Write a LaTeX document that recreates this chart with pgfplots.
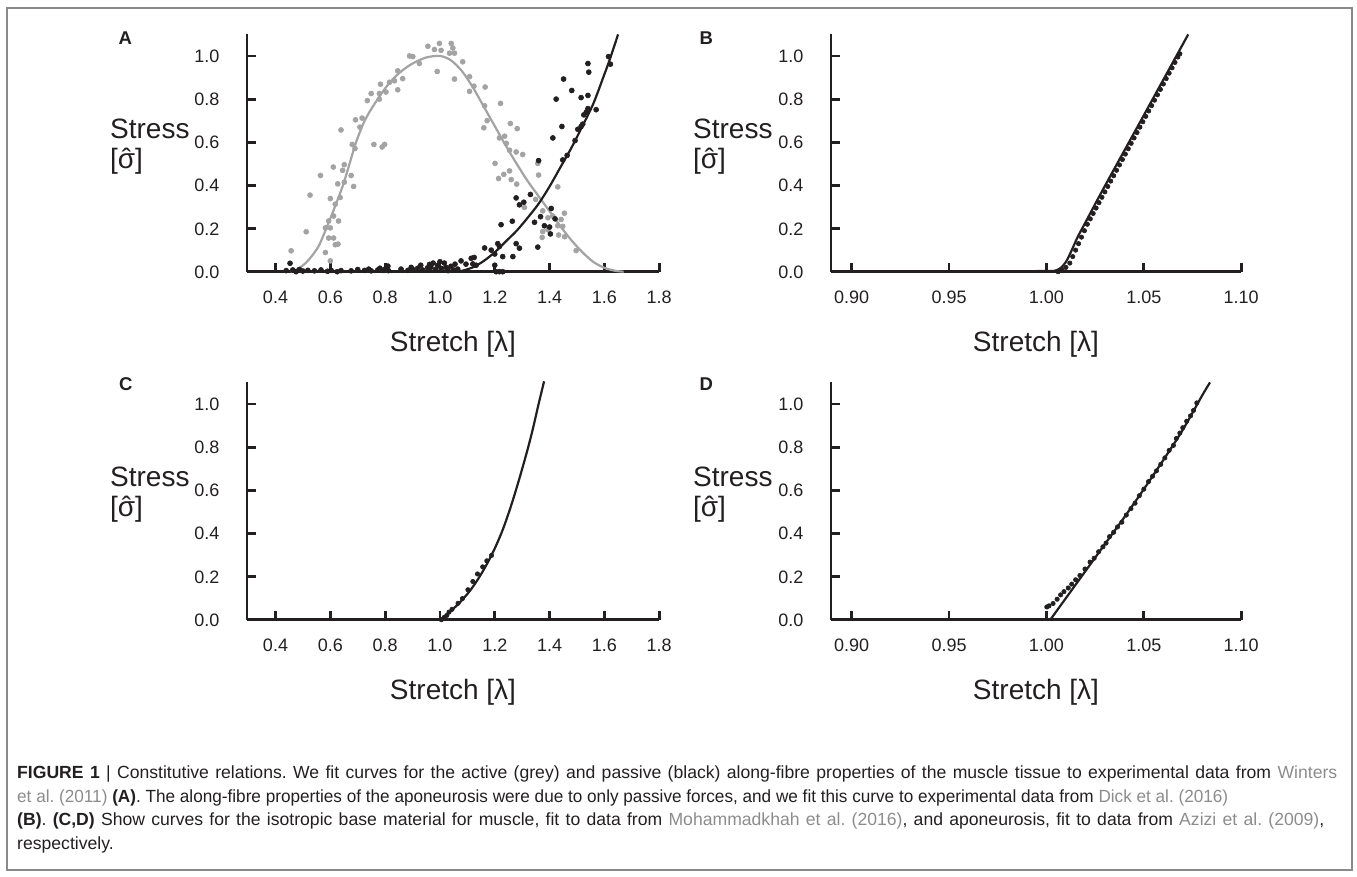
\documentclass[border=0pt]{standalone}
\usepackage{fontspec}
\setmainfont{Liberation Sans}
\usepackage{pgfplots}
\pgfplotsset{compat=1.18}
\frenchspacing
\definecolor{ink}{HTML}{231F20}
\definecolor{act}{HTML}{A3A3A3}
\definecolor{refc}{HTML}{8C8C8C}
\definecolor{framec}{HTML}{8A8A8A}
\newcommand{\shat}{{\ooalign{σ\cr\hidewidth ˆ\hidewidth\cr}}}
\pgfplotsset{
  panel/.style={
    scale only axis,
    axis lines=left,
    axis line style={-, line width=2.8bp, ink},
    every tick/.style={line width=2.8bp, ink},
    tick align=inside,
    major tick length=9bp,
    ymin=0, ymax=1.1,
    ytick={0,0.2,0.4,0.6,0.8,1.0},
    yticklabels={0.0,0.2,0.4,0.6,0.8,1.0},
    clip=false,
    /pgf/number format/assume math mode=true,
    tick label style={font=\fontsize{18bp}{20bp}\selectfont, text=ink},
    xticklabel style={anchor=base, yshift=-31.5bp},
    yticklabel style={anchor=base east, xshift=-24bp, yshift=-6.5bp},
    height=237.3bp,
  },
  wide/.style={xmin=0.296, xmax=1.8, width=412.2bp,
    xtick={0.4,0.6,0.8,1.0,1.2,1.4,1.6,1.8},
    xticklabels={0.4,0.6,0.8,1.0,1.2,1.4,1.6,1.8}},
  narrow/.style={xmin=0.8894, xmax=1.10, width=410.2bp,
    xtick={0.90,0.95,1.00,1.05,1.10},
    xticklabels={0.90,0.95,1.00,1.05,1.10}},
  dotsA/.style={only marks, color=#1, mark=*, mark size=2.5bp, mark options={solid, draw=#1, fill=#1, line width=0.6bp}},
  dotsB/.style={only marks, color=ink, mark=*, mark size=2.2bp, mark options={solid, draw=ink, fill=ink, line width=0.6bp}},
  fit/.style={#1, line width=2.2bp, smooth, mark=none},
}
\begin{document}
\begin{tikzpicture}
\path[use as bounding box] (0,0) rectangle (1357bp,877bp);
\draw[framec, line width=1.5bp] (7bp,7bp) rectangle (1352bp,869bp);

% ---------------- Panel A ----------------
\begin{axis}[panel, wide, at={(247bp,605.3bp)}, anchor=south west]
\addplot[dotsA=act] coordinates {
(0.457,0.097)(0.512,0.185)(0.526,0.355)(0.564,0.446)(0.582,0.089)(0.600,0.050)
(0.582,0.203)(0.600,0.203)(0.594,0.235)(0.630,0.235)(0.612,0.258)(0.594,0.156)
(0.612,0.156)(0.618,0.125)(0.628,0.128)(0.618,0.313)(0.600,0.339)(0.636,0.344)
(0.627,0.407)(0.651,0.415)(0.685,0.395)(0.611,0.485)(0.645,0.470)(0.676,0.446)
(0.651,0.496)(0.639,0.657)(0.680,0.590)(0.690,0.571)(0.692,0.704)(0.716,0.712)
(0.708,0.670)(0.759,0.590)(0.789,0.578)(0.798,0.590)(0.735,0.793)(0.749,0.826)
(0.779,0.826)(0.803,0.833)(0.783,0.869)(0.779,0.800)(0.816,0.878)(0.834,0.885)
(0.846,0.843)(0.846,0.931)(0.864,0.895)
(0.889,1.000)(0.901,0.997)(0.925,0.965)(0.956,1.045)(0.980,1.030)(1.004,1.026)
(0.998,1.058)(1.041,1.058)(1.047,1.037)(1.035,1.013)(1.053,1.013)(0.990,0.928)
(1.053,0.893)(1.083,0.973)(1.108,0.904)(1.124,0.860)(1.108,0.836)(1.165,0.856)
(1.163,0.769)(1.221,0.780)(1.172,0.700)(1.160,0.667)(1.257,0.687)(1.282,0.663)
(1.217,0.620)(1.236,0.628)(1.242,0.595)(1.254,0.563)(1.278,0.555)(1.302,0.543)
(1.201,0.502)(1.214,0.432)(1.233,0.451)(1.254,0.467)(1.260,0.427)(1.280,0.406)
(1.357,0.502)(1.360,0.448)(1.308,0.298)(1.349,0.335)(1.430,0.393)(1.375,0.282)
(1.394,0.250)(1.412,0.258)(1.454,0.271)(1.442,0.242)(1.430,0.213)(1.375,0.186)
(1.394,0.194)(1.373,0.159)(1.433,0.170)(1.455,0.162)(1.448,0.210)(1.497,0.098)
};
\addplot[fit=act] coordinates {
(0.455,0)(0.48,0.012)(0.51,0.04)(0.54,0.085)(0.56,0.125)(0.585,0.20)(0.615,0.295)
(0.646,0.40)(0.67,0.50)(0.694,0.60)(0.72,0.685)(0.745,0.745)(0.773,0.80)(0.80,0.85)
(0.83,0.895)(0.86,0.93)(0.90,0.965)(0.95,0.993)(1.00,1.00)(1.04,0.98)(1.08,0.93)
(1.12,0.855)(1.16,0.765)(1.20,0.675)(1.24,0.585)(1.28,0.50)(1.32,0.42)(1.36,0.35)
(1.40,0.28)(1.44,0.21)(1.48,0.145)(1.52,0.09)(1.56,0.045)(1.60,0.018)(1.64,0.004)(1.67,0)
};
\addplot[dotsA=ink] coordinates {
(0.439,0.005)(0.453,0.039)(0.463,0.008)(0.475,0.0)(0.487,0.01)(0.500,0.003)(0.518,0.006)
(0.542,0.004)(0.566,0.008)(0.590,0.002)(0.603,0.006)(0.625,0.0)(0.639,0.005)(0.676,0.004)
(0.700,0.01)(0.725,0.006)(0.740,0.012)(0.749,0.004)(0.773,0.008)(0.781,0.016)(0.791,0.006)
(0.800,0.012)(0.810,0.026)(0.812,0.005)(0.858,0.012)(0.883,0.006)(0.895,0.02)(0.901,0.01)
(0.919,0.016)(0.930,0.03)(0.937,0.008)(0.955,0.018)(0.962,0.034)(0.967,0.02)(0.975,0.04)
(0.985,0.012)(0.992,0.03)(1.000,0.046)(1.005,0.015)(1.016,0.04)(1.022,0.02)(1.030,0.005)
(1.040,0.025)(1.050,0.008)(1.055,0.035)(1.065,0.012)(1.077,0.05)(1.095,0.035)(1.114,0.062)
(1.125,0.066)(1.120,0.036)(1.132,0.03)
(1.163,0.11)(1.187,0.10)(1.200,0.082)(1.200,0.03)(1.205,0.0)(1.211,0.13)(1.217,0.117)
(1.217,0.0)(1.223,0.218)(1.229,0.07)(1.229,0.0)(1.264,0.234)(1.266,0.07)(1.278,0.13)
(1.278,0.342)(1.29,0.109)(1.29,0.31)(1.306,0.322)(1.33,0.358)(1.345,0.229)(1.357,0.114)
(1.36,0.515)(1.367,0.255)(1.381,0.213)(1.4,0.207)(1.403,0.175)(1.406,0.293)(1.412,0.62)
(1.42,0.245)(1.424,0.8)(1.445,0.673)(1.448,0.518)(1.451,0.893)(1.464,0.539)(1.481,0.84)
(1.493,0.608)(1.503,0.66)(1.515,0.673)(1.521,0.684)(1.515,0.807)(1.525,0.727)(1.534,0.74)
(1.54,0.756)(1.54,0.817)(1.57,0.751)(1.54,0.965)(1.543,0.925)(1.615,0.997)(1.622,0.962)
};
\addplot[fit=ink] coordinates {
(1.07,0)(1.12,0.02)(1.16,0.05)(1.20,0.09)(1.24,0.14)(1.28,0.19)(1.32,0.25)(1.36,0.315)
(1.40,0.395)(1.44,0.485)(1.48,0.575)(1.52,0.675)(1.56,0.78)(1.60,0.915)(1.62,0.985)(1.65,1.1)
};
\end{axis}

% ---------------- Panel B ----------------
\begin{axis}[panel, narrow, at={(831bp,605.3bp)}, anchor=south west]
\addplot[dotsB] coordinates {
(1.006,0.0)(1.008,0.01)(1.010,0.02)(1.012,0.04)(1.0135,0.07)(1.015,0.10)(1.0165,0.13)
(1.018,0.16)(1.0195,0.19)(1.021,0.22)(1.0225,0.245)(1.024,0.27)(1.0255,0.295)(1.027,0.32)
(1.0285,0.345)(1.030,0.37)(1.0315,0.395)(1.033,0.42)(1.0345,0.445)(1.036,0.47)(1.0375,0.495)
(1.039,0.52)(1.0405,0.545)(1.042,0.57)(1.0435,0.595)(1.045,0.62)(1.0465,0.645)(1.048,0.67)
(1.0495,0.695)(1.051,0.72)(1.0525,0.745)(1.054,0.77)(1.0555,0.795)(1.057,0.82)(1.0585,0.845)
(1.060,0.87)(1.0615,0.895)(1.063,0.92)(1.0645,0.945)(1.066,0.97)(1.0675,0.995)(1.0685,1.01)
};
\addplot[fit=ink] coordinates {
(0.8894,0)(0.95,0.001)(1.0,0.003)(1.004,0.004)(1.007,0.015)(1.010,0.045)(1.013,0.10)
(1.016,0.16)(1.02,0.228)(1.03,0.397)(1.05,0.725)(1.0728,1.1)
};
\end{axis}

% ---------------- Panel C ----------------
\begin{axis}[panel, wide, at={(247bp,257.3bp)}, anchor=south west]
\addplot[dotsB] coordinates {
(1.005,0.0)(1.015,0.01)(1.025,0.02)(1.033,0.035)(1.044,0.048)(1.066,0.076)(1.082,0.098)
(1.102,0.139)(1.12,0.177)(1.137,0.212)(1.156,0.245)(1.171,0.273)(1.188,0.298)
};
\addplot[fit=ink] coordinates {
(1.000,0)(1.02,0.018)(1.05,0.052)(1.08,0.09)(1.11,0.135)(1.14,0.19)(1.17,0.255)(1.20,0.33)
(1.23,0.42)(1.26,0.53)(1.29,0.655)(1.32,0.79)(1.34,0.89)(1.36,1.0)(1.38,1.105)
};
\end{axis}

% ---------------- Panel D ----------------
\begin{axis}[panel, narrow, at={(831bp,257.3bp)}, anchor=south west]
\addplot[dotsB] coordinates {
(1.0002,0.059)(1.0013,0.064)(1.0034,0.075)(1.0055,0.095)(1.0073,0.115)(1.0090,0.13)
(1.0112,0.147)(1.0130,0.165)(1.0150,0.185)(1.0172,0.205)(1.0198,0.235)(1.0224,0.267)
(1.0245,0.285)(1.0268,0.315)(1.0290,0.338)(1.0306,0.355)(1.0324,0.385)(1.0345,0.405)
(1.0365,0.43)(1.0387,0.452)(1.0410,0.485)(1.0434,0.515)(1.0455,0.54)(1.0477,0.575)
(1.0500,0.605)(1.0524,0.64)(1.0545,0.665)(1.0565,0.69)(1.0587,0.72)(1.0608,0.75)
(1.0630,0.785)(1.0652,0.808)(1.0667,0.84)(1.0685,0.865)(1.0700,0.89)(1.0720,0.92)
(1.0740,0.945)(1.0755,0.97)(1.0772,1.005)
};
\addplot[fit=ink] coordinates {
(1.002,0)(1.01,0.10)(1.02,0.225)(1.03,0.35)(1.04,0.475)(1.05,0.605)(1.06,0.74)
(1.07,0.88)(1.08,1.04)(1.084,1.1)
};
\end{axis}

% ---------------- Labels ----------------
\begin{scope}[every node/.style={inner sep=0pt, text=ink}]
\foreach \cx/\by in {453/525.3, 1036/525.3, 453/177.3, 1036/177.3}
  \node[anchor=base, font=\fontsize{28bp}{32bp}\selectfont] at (\cx bp,\by bp) {Stretch [λ]};
\foreach \lx/\sy/\ly in {110/738.7/708, 693/738.7/708, 110/390.7/360, 693/390.7/360}{
  \node[anchor=base west, font=\fontsize{28bp}{32bp}\selectfont] at (\lx bp,\sy bp) {Stress};
  \node[anchor=base west, font=\fontsize{28bp}{32bp}\selectfont] at (\lx bp,\ly bp) {[\shat]};
}
\node[anchor=base west, font=\fontsize{18.5bp}{20bp}\selectfont\bfseries] at (118.3bp,832bp) {A};
\node[anchor=base west, font=\fontsize{18.5bp}{20bp}\selectfont\bfseries] at (699.4bp,832bp) {B};
\node[anchor=base west, font=\fontsize{18.5bp}{20bp}\selectfont\bfseries] at (119bp,486bp) {C};
\node[anchor=base west, font=\fontsize{18.5bp}{20bp}\selectfont\bfseries] at (699.4bp,486bp) {D};

\begin{scope}[every node/.append style={anchor=base west, font=\fontsize{17.6bp}{21bp}\selectfont}]
\node at (17bp,98bp) {\makebox[1320bp][s]{\textbf{FIGURE 1} | Constitutive relations. We fit curves for the active (grey) and passive (black) along-fibre properties of the muscle tissue to experimental data from \textcolor{refc}{Winters}}};
\node at (17bp,74.5bp) {\scalebox{0.975}[1]{\textcolor{refc}{et al. (2011)} \textbf{(A)}. The along-fibre properties of the aponeurosis were due to only passive forces, and we fit this curve to experimental data from \textcolor{refc}{Dick et al. (2016)}}};
\node at (17bp,51bp) {\makebox[1307bp][s]{\textbf{(B)}. \textbf{(C,D)} Show curves for the isotropic base material for muscle, fit to data from \textcolor{refc}{Mohammadkhah et al. (2016)}, and aponeurosis, fit to data from \textcolor{refc}{Azizi et al. (2009)},}};
\node at (17bp,27.5bp) {respectively.};
\end{scope}
\end{scope}
\end{tikzpicture}
\end{document}
